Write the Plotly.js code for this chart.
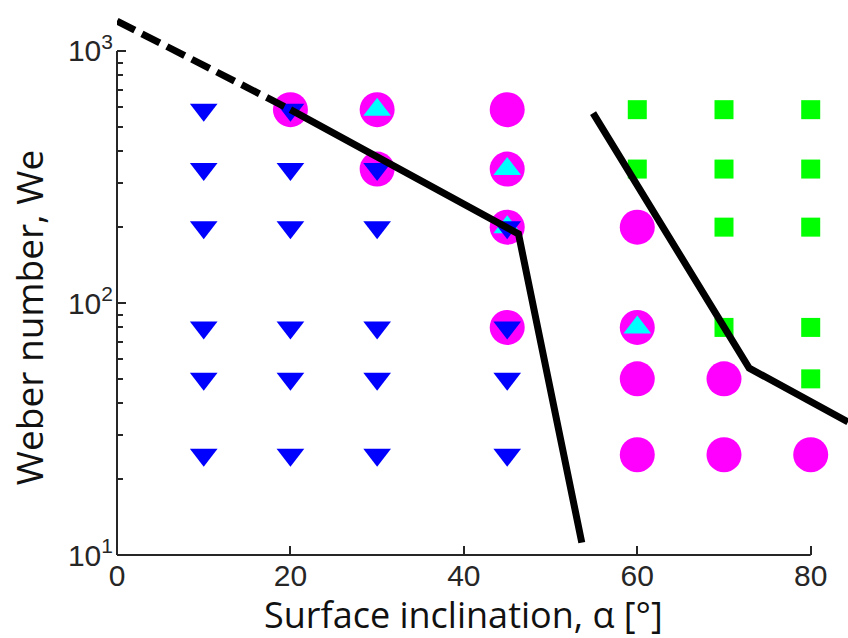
<!DOCTYPE html>
<html>
<head>
<meta charset="utf-8">
<script src="https://cdn.plot.ly/plotly-3.0.1.min.js"></script>
<style>html,body{margin:0;padding:0;background:#fff;}#chart{width:848px;height:638px;}</style>
</head>
<body>
<div id="chart"></div>
<script>
// Magenta circles
const circleX = [20, 30, 30, 45, 45, 45, 45, 60, 60, 60, 60, 70, 70, 80];
const circleY = [585, 585, 340, 585, 340, 200, 80, 200, 80, 50, 25, 50, 25, 25];
// Green squares
const squareX = [60, 60, 70, 70, 70, 70, 80, 80, 80, 80, 80];
const squareY = [585, 340, 585, 340, 200, 80, 585, 340, 200, 80, 50];
// Cyan up-triangles
const upX = [30, 45, 45, 60];
const upY = [585, 340, 200, 80];
// Blue down-triangles
const downX = [10, 10, 10, 10, 10, 10, 20, 20, 20, 20, 20, 20, 30, 30, 30, 30, 30, 45, 45, 45, 45];
const downY = [585, 340, 200, 80, 50, 25, 585, 340, 200, 80, 50, 25, 340, 200, 80, 50, 25, 200, 80, 50, 25];
// Boundary lines
const dashX = [0, 20];
const dashY = [1315, 585];
const line1X = [20, 46.3, 53.6];
const line1Y = [585, 188, 11.2];
const line2X = [54.9, 72.9, 84.3];
const line2Y = [567, 55.2, 33.7];

// Axis tick labels
const xTicks = [0, 20, 40, 60, 80];
const yTicks = [10, 100, 1000];
const yTickText = ['10<sup>1</sup>', '10<sup>2</sup>', '10<sup>3</sup>'];
const yMinor = [20, 30, 40, 50, 60, 70, 80, 90, 200, 300, 400, 500, 600, 700, 800, 900];

const xTitle = 'Surface inclination, α [°]';
const yTitle = 'Weber number, We';

const XMAX = 84.3, XAX = 80;
const YLOG0 = 1, YLOG1 = 3.1706, YAX = 3;

const axisColor = '#262626';
const tickFont = {family: 'Liberation Sans, Arial, sans-serif', size: 30, color: axisColor};
const titleFont = {family: 'Open Sans, sans-serif', size: 36, color: '#111'};
const yTitleFont = {family: 'Open Sans, sans-serif', size: 37, color: '#111'};

const traces = [
  {x: circleX, y: circleY, type: 'scatter', mode: 'markers', cliponaxis: false,
   marker: {symbol: 'circle', size: 35, color: '#FF00FF'}},
  {x: squareX, y: squareY, type: 'scatter', mode: 'markers', cliponaxis: false,
   marker: {symbol: 'square', size: 19, color: '#00FF00'}},
  {x: upX, y: upY, type: 'scatter', mode: 'markers', cliponaxis: false,
   marker: {symbol: 'triangle-up', size: 24, color: '#00FFFF'}},
  {x: downX, y: downY, type: 'scatter', mode: 'markers', cliponaxis: false,
   marker: {symbol: 'triangle-down', size: 24, color: '#0000FF'}},
  {x: dashX, y: dashY, type: 'scatter', mode: 'lines',
   line: {color: '#000', width: 7, dash: '20px,8px'}},
  {x: line1X, y: line1Y, type: 'scatter', mode: 'lines',
   line: {color: '#000', width: 7}},
  {x: line2X, y: line2Y, type: 'scatter', mode: 'lines',
   line: {color: '#000', width: 7}}
];

const layout = {
  width: 848, height: 638,
  margin: {l: 117, r: 0, t: 8, b: 83, pad: 0},
  paper_bgcolor: '#fff', plot_bgcolor: '#fff',
  showlegend: false,
  xaxis: {
    range: [0, XMAX], showgrid: false, zeroline: false, showline: false,
    tickmode: 'array', tickvals: xTicks,
    ticks: 'inside', ticklen: 9, tickwidth: 2, tickcolor: axisColor,
    tickfont: tickFont
  },
  yaxis: {
    type: 'log', range: [YLOG0, YLOG1], showgrid: false, zeroline: false, showline: false,
    tickmode: 'array', tickvals: yTicks, ticktext: yTickText,
    ticks: 'inside', ticklen: 9, tickwidth: 2, tickcolor: axisColor,
    tickfont: tickFont, ticklabelstandoff: 3,
    minor: {tickmode: 'array', tickvals: yMinor, ticks: 'inside', ticklen: 6, tickwidth: 2, tickcolor: axisColor, showgrid: false}
  },
  shapes: [
    {type: 'line', xref: 'paper', yref: 'paper', x0: 0, x1: XAX / XMAX, y0: 0, y1: 0,
     line: {color: axisColor, width: 2}},
    {type: 'line', xref: 'paper', yref: 'paper', x0: 0, x1: 0, y0: 0, y1: (YAX - YLOG0) / (YLOG1 - YLOG0),
     line: {color: axisColor, width: 2}}
  ],
  annotations: [
    {text: xTitle, xref: 'x', x: 40, yref: 'paper', y: 0, yanchor: 'middle', xanchor: 'center',
     yshift: -59, borderpad: 0, showarrow: false, font: titleFont},
    {text: yTitle, xref: 'paper', x: 0, xshift: -89, yref: 'paper', y: 0.433, xanchor: 'center', yanchor: 'middle',
     textangle: -90, showarrow: false, font: yTitleFont}
  ]
};

Plotly.newPlot('chart', traces, layout, {displayModeBar: false, staticPlot: true});
</script>
</body>
</html>
